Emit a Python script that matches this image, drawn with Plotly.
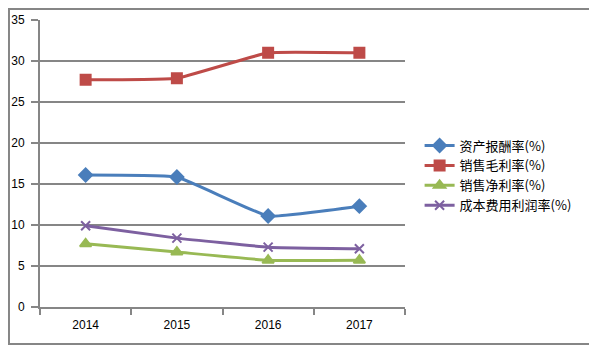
import plotly.graph_objects as go

years = ["2014", "2015", "2016", "2017"]
asset_return = [16.1, 15.85, 11.1, 12.3]
gross_margin = [27.7, 27.9, 31.0, 31.0]
net_margin = [7.7, 6.7, 5.7, 5.7]
cost_profit = [9.9, 8.4, 7.3, 7.1]

names = ["资产报酬率(%)", "销售毛利率(%)", "销售净利率(%)", "成本费用利润率(%)"]
colors = ["#4A7EBB", "#BE4B48", "#98B954", "#7D60A0"]
symbols = ["diamond", "square", "triangle-up", "x-thin"]
sizes = [10, 10, 10, 9]
series = [asset_return, gross_margin, net_margin, cost_profit]

fig = go.Figure()
for nm, vals, c, s, sz in zip(names, series, colors, symbols, sizes):
    fig.add_trace(go.Scatter(
        x=years, y=vals, name=nm, mode="lines+markers",
        line=dict(color=c, width=3, shape="spline", smoothing=0.3),
        marker=dict(symbol=s, size=sz, color=c, line=dict(color=c, width=2)),
    ))

fig.update_layout(
    width=589, height=348,
    margin=dict(l=32, r=192, t=12, b=49),
    paper_bgcolor="white", plot_bgcolor="white",
    font=dict(family="Noto Sans CJK SC, Liberation Sans, sans-serif", size=11, color="#000000"),
    showlegend=True,
    legend=dict(x=1.04, y=0.458, xanchor="left", yanchor="middle",
                font=dict(size=13), tracegroupgap=0, itemwidth=30,
                bgcolor="rgba(0,0,0,0)"),
    xaxis=dict(type="category", range=[-0.5, 3.5], showgrid=False, automargin=False,
               showline=True, linecolor="#868686", linewidth=2,
               ticks="outside", tickson="boundaries", ticklen=6, tickcolor="#868686", tickwidth=2,
               ticklabelstandoff=6,
               tickfont=dict(size=12, family="Liberation Sans, sans-serif"), fixedrange=True),
    yaxis=dict(range=[0, 35], dtick=5, showgrid=True, gridcolor="#868686", gridwidth=2,
               automargin=False,
               showline=True, linecolor="#868686", linewidth=2, zeroline=False,
               ticks="outside", ticklen=7, tickcolor="#868686", tickwidth=2,
               ticklabelstandoff=4,
               tickfont=dict(size=12, family="Liberation Sans, sans-serif"), fixedrange=True),
    shapes=[dict(type="rect", xref="paper", yref="paper",
                 x0=-0.085, x1=1.507, y0=-0.129, y1=1.038,
                 line=dict(color="#868686", width=2), fillcolor="rgba(0,0,0,0)", layer="below")],
)

fig.write_html("out.html")
